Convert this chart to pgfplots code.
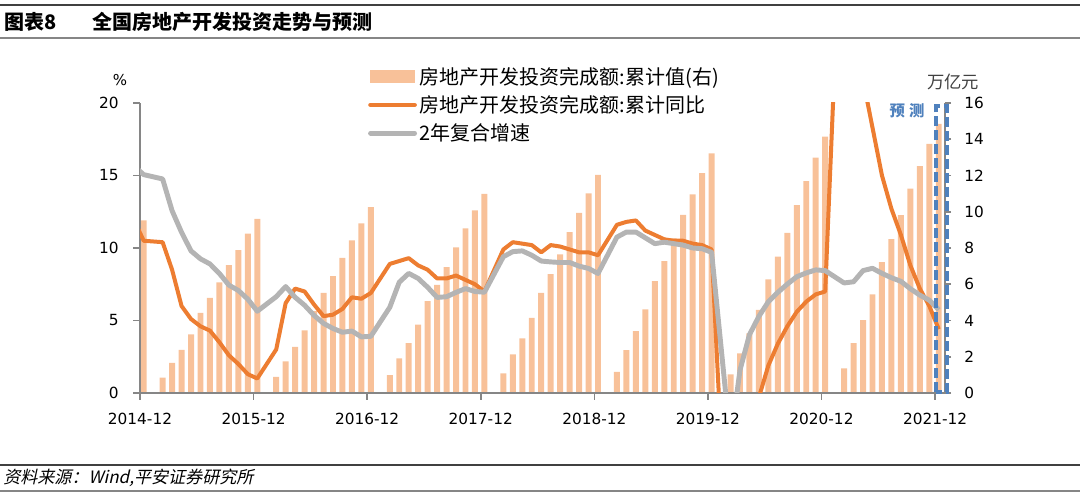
\documentclass[border=0pt]{standalone}
\usepackage{fontspec}
\usepackage{pgfplots}
\usepackage{pgfplotstable}
\pgfplotsset{compat=1.18}
\setmainfont{DejaVu Sans}
\newfontfamily\cjk{Noto Sans CJK SC}
\newfontfamily\cjkit{Noto Sans CJK SC}[FakeSlant=0.22]
\newfontfamily\dv{DejaVu Sans}
\definecolor{barc}{RGB}{248,193,153}
\definecolor{orl}{RGB}{237,125,49}
\definecolor{gyl}{RGB}{180,180,180}
\definecolor{axc}{RGB}{134,134,134}
\definecolor{blu}{RGB}{79,129,189}
\definecolor{dk}{RGB}{64,64,64}

% cumulative investment, trillion yuan (month index: 2014-12 = 0)
\pgfplotstableread{
m v
0 9.52
2 0.85
3 1.66
4 2.38
5 3.24
6 4.42
7 5.25
8 6.10
9 7.06
10 7.88
11 8.79
12 9.60
14 0.89
15 1.75
16 2.54
17 3.46
18 4.52
19 5.53
20 6.45
21 7.46
22 8.42
23 9.36
24 10.26
26 0.99
27 1.91
28 2.75
29 3.77
30 5.07
31 5.97
32 6.95
33 8.03
34 9.08
35 10.07
36 10.98
38 1.08
39 2.13
40 3.01
41 4.15
42 5.53
43 6.56
44 7.65
45 8.88
46 9.94
47 11.01
48 12.03
50 1.17
51 2.37
52 3.42
53 4.61
54 6.17
55 7.28
56 8.53
57 9.83
58 10.96
59 12.13
60 13.22
62 1.03
63 2.18
64 3.29
65 4.59
66 6.27
67 7.52
68 8.84
69 10.37
70 11.69
71 12.98
72 14.14
74 1.36
75 2.75
76 4.02
77 5.44
78 7.22
79 8.49
80 9.82
81 11.27
82 12.52
83 13.75
84 14.85
}\bars

% yoy growth and 2-year compound growth, %
\pgfplotstableread{
m yoy cagr
-1 11.9 15.64
0 10.5 15.06
2 10.4 14.76
3 8.5 12.57
4 6.0 11.08
5 5.1 9.80
6 4.6 9.25
7 4.3 8.90
8 3.5 8.24
9 2.6 7.44
10 2.0 7.07
11 1.3 6.47
12 1.0 5.64
14 3.0 6.64
15 6.2 7.34
16 7.2 6.60
17 7.0 6.05
18 6.1 5.35
19 5.3 4.80
20 5.4 4.45
21 5.8 4.19
22 6.6 4.27
23 6.5 3.87
24 6.9 3.91
26 8.9 5.91
27 9.1 7.64
28 9.3 8.25
29 8.8 7.90
30 8.5 7.29
31 7.9 6.59
32 7.9 6.64
33 8.1 6.94
34 7.8 7.20
35 7.5 7.00
36 7.0 6.95
38 9.9 9.40
39 10.4 9.75
40 10.3 9.80
41 10.2 9.50
42 9.7 9.10
43 10.2 9.04
44 10.1 9.00
45 9.9 9.00
46 9.7 8.75
47 9.7 8.59
48 9.5 8.24
50 11.6 10.75
51 11.8 11.10
52 11.9 11.10
53 11.2 10.70
54 10.9 10.30
55 10.6 10.40
56 10.5 10.30
57 10.5 10.20
58 10.3 10.00
59 10.2 9.95
60 9.9 9.70
62 -16.3 -3.35
63 -7.7 1.58
64 -3.3 4.02
65 -0.3 5.29
66 1.9 6.30
67 3.4 6.94
68 4.6 7.51
69 5.6 8.02
70 6.3 8.28
71 6.8 8.49
72 7.0 8.44
74 38.3 7.59
75 25.6 7.67
76 21.6 8.44
77 18.3 8.60
78 15.0 8.25
79 12.7 7.95
80 10.9 7.70
81 8.8 7.19
82 7.2 6.75
83 6.0 6.40
84 4.4 5.74
}\lines

\begin{document}
\begin{tikzpicture}[x=0.75pt,y=0.75pt]
\useasboundingbox (0,0) rectangle (1080,499);
% header
\draw[dk, line width=1.5pt] (0,493.5) -- (1080,493.5);
\draw[axc, line width=1.5pt] (0,461) -- (1080,461);
\node[anchor=west, inner sep=0pt, font=\cjk\bfseries\fontsize{15}{18}\selectfont] at (4,477) {图表8};
\node[anchor=west, inner sep=0pt, font=\cjk\bfseries\fontsize{15}{18}\selectfont] at (92,477) {全国房地产开发投资走势与预测};
% footer
\draw[dk, line width=1.5pt] (0,33.5) -- (1080,33.5);
\draw[axc, line width=2pt] (0,8) -- (1080,8);
\node[anchor=west, inner sep=0pt, font=\cjkit\fontsize{12.8}{15}\selectfont] at (3,21) {资料来源：Wind,平安证券研究所};

% bars on right axis
\begin{axis}[
  at={(105pt,79.5pt)}, anchor=south west, scale only axis,
  width=603.75pt, height=217.5pt,
  xmin=-0.39, xmax=84.66, ymin=0, ymax=16,
  axis x line=none,
  axis y line*=right,
  axis line style={draw=axc, line width=1.5pt, -},
  ytick={0,2,...,16},
  tick align=outside,
  major tick length=4.5pt,
  ytick style={draw=axc, line width=1.2pt},
  yticklabel style={font=\dv\fontsize{11.5}{13}\selectfont, text=black, xshift=6.5pt},
  /pgf/number format/assume math mode=true,
  ybar, bar width=0.63,
]
\addplot[fill=barc, draw=none] table[x=m,y=v]{\bars};
\end{axis}

% lines on left axis
\begin{axis}[
  at={(105pt,79.5pt)}, anchor=south west, scale only axis,
  width=603.75pt, height=217.5pt,
  xmin=-0.39, xmax=84.66, ymin=0, ymax=20,
  axis x line*=bottom, axis y line*=left,
  axis line style={draw=axc, line width=1.5pt, -},
  xtick={-0.39,11.61,23.61,35.61,47.61,59.61,71.61,83.61},
  xticklabels={2014-12,2015-12,2016-12,2017-12,2018-12,2019-12,2020-12,2021-12},
  ytick={0,5,...,20},
  tick align=outside,
  major tick length=5pt,
  tick style={draw=axc, line width=1.2pt},
  ticklabel style={font=\dv\fontsize{11.5}{13}\selectfont, text=black},
  xticklabel style={yshift=-6.5pt},
  yticklabel style={xshift=-7.5pt},
  /pgf/number format/assume math mode=true,
  legend style={at={(0.283,1.134)}, anchor=north west, draw=none, fill=none,
    inner sep=0pt, font=\cjk\fontsize{15}{18}\selectfont, row sep=3pt,
    cells={anchor=west}},
]
\addlegendimage{legend image code/.code={\fill[barc] (0pt,-4.5pt) rectangle (33pt,4.5pt);}}
\addplot[orl, line width=3pt, line join=round,
  legend image code/.code={\draw[orl,line width=3.5pt,line cap=round] (0pt,0pt) -- (33pt,0pt);}]
  table[x=m,y=yoy]{\lines};
\addplot[gyl, line width=3.7pt, line join=round,
  legend image code/.code={\draw[gyl,line width=3.7pt,line cap=round] (0pt,0pt) -- (33pt,0pt);}]
  table[x=m,y=cagr]{\lines};
\legend{房地产开发投资完成额:累计值(右),房地产开发投资完成额:累计同比,2年复合增速}
\end{axis}

% forecast box
\draw[blu, line width=3pt, dash pattern=on 7.5pt off 3pt] (936,106.5) rectangle (947,392.5);
\node[font=\cjk\bfseries\fontsize{11.5}{14}\selectfont, text=blu] at (907,388.5) {预\hspace{3pt}测};
\node[font=\dv\fontsize{11.25}{13}\selectfont] at (120,419) {\%};
\node[font=\cjk\fontsize{13}{15}\selectfont, text=dk] at (953,417.5) {万亿元};
\end{tikzpicture}
\end{document}
